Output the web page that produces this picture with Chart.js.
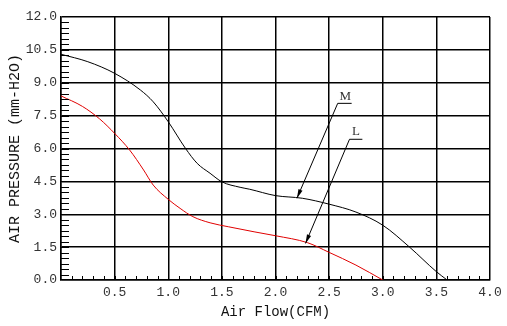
<!DOCTYPE html>
<html lang="en">
<head>
    <meta charset="UTF-8">
    <title>Fan P-Q Curve</title>
    <script src="https://cdn.jsdelivr.net/npm/chart.js"></script>
    <style>
        html, body { margin: 0; padding: 0; background: #fff; }
        #wrap { width: 507px; height: 326px; }
    </style>
</head>
<body>
    <div id="wrap"><canvas id="pqChart" width="507" height="326"></canvas></div>

    <script>
        // Air flow (CFM) / air pressure (mm-H2O) samples for each speed
        const flowM = [0, 0.25, 0.5, 0.74, 0.86, 1.0, 1.16, 1.27, 1.39, 1.5, 1.67, 1.76, 2.0, 2.25, 2.5, 2.75, 3.0, 3.25, 3.5, 3.6];
        const pressM = [10.3, 9.96, 9.43, 8.67, 8.13, 7.22, 6.01, 5.32, 4.87, 4.48, 4.23, 4.14, 3.85, 3.73, 3.46, 3.1, 2.5, 1.5, 0.38, 0];

        const flowL = [0, 0.2, 0.36, 0.5, 0.64, 0.77, 0.86, 1.0, 1.11, 1.23, 1.39, 1.56, 1.8, 2.0, 2.3, 2.5, 2.75, 3.0];
        const pressL = [8.4, 7.92, 7.35, 6.69, 5.93, 5.02, 4.33, 3.68, 3.27, 2.89, 2.61, 2.43, 2.2, 2.02, 1.7, 1.26, 0.68, 0];

        const xTickValues = [0.5, 1.0, 1.5, 2.0, 2.5, 3.0, 3.5, 4.0];
        const yTickValues = [0, 1.5, 3.0, 4.5, 6.0, 7.5, 9.0, 10.5, 12.0];

        const toPoints = (xs, ys) => xs.map((x, i) => ({ x: x, y: ys[i] }));

        // curve labels with leader arrows, in data units
        const callouts = [
            { text: 'M', tx: 2.65, ty: 8.39, lineFrom: 2.58, lineTo: 2.71, ly: 8.06, tipX: 2.2, tipY: 3.73 },
            { text: 'L', tx: 2.75, ty: 6.77, lineFrom: 2.69, lineTo: 2.81, ly: 6.42, tipX: 2.28, tipY: 1.67 }
        ];

        const tickFont = { family: '"Liberation Mono", "DejaVu Sans Mono", monospace', size: 13 };

        // inward minor ticks plus the M / L callouts
        const decorations = {
            id: 'decorations',
            afterDraw(chart) {
                const { ctx, chartArea } = chart;
                const x = chart.scales.x, y = chart.scales.y;
                ctx.save();
                ctx.fillStyle = '#000';
                for (let i = 1; i < 48; i++) {
                    const py = Math.round(y.getPixelForValue(i * 0.25));
                    ctx.fillRect(Math.round(chartArea.left), py, 8, 1);
                }
                for (let i = 1; i < 40; i++) {
                    const px = Math.round(x.getPixelForValue(i * 0.1));
                    ctx.fillRect(px, Math.round(chartArea.bottom) - 4, 1, 4);
                }

                callouts.forEach(c => {
                    const x0 = x.getPixelForValue(c.lineFrom);
                    const x1 = x.getPixelForValue(c.lineTo);
                    const ly = y.getPixelForValue(c.ly);
                    const tx = x.getPixelForValue(c.tipX);
                    const ty = y.getPixelForValue(c.tipY);
                    ctx.strokeStyle = '#000';
                    ctx.lineWidth = 1;
                    ctx.beginPath();
                    ctx.moveTo(x1, ly);
                    ctx.lineTo(x0, ly);
                    ctx.lineTo(tx, ty);
                    ctx.stroke();

                    // arrow head
                    const ang = Math.atan2(ty - ly, tx - x0);
                    const len = 9, half = 2.2;
                    const bx = tx - len * Math.cos(ang);
                    const by = ty - len * Math.sin(ang);
                    ctx.fillStyle = '#000';
                    ctx.beginPath();
                    ctx.moveTo(tx, ty);
                    ctx.lineTo(bx + half * Math.sin(ang), by - half * Math.cos(ang));
                    ctx.lineTo(bx - half * Math.sin(ang), by + half * Math.cos(ang));
                    ctx.closePath();
                    ctx.fill();

                    ctx.fillStyle = '#333';
                    ctx.font = '13px "Liberation Serif", serif';
                    ctx.textAlign = 'center';
                    ctx.textBaseline = 'middle';
                    ctx.fillText(c.text, x.getPixelForValue(c.tx), y.getPixelForValue(c.ty));
                });
                ctx.restore();
            }
        };

        const isTickAt = (list, v) => list.some(t => Math.abs(t - v) < 1e-6);

        new Chart(document.getElementById('pqChart'), {
            type: 'line',
            data: {
                datasets: [
                    {
                        label: 'M',
                        data: toPoints(flowM, pressM),
                        borderColor: '#000',
                        borderWidth: 1,
                        pointRadius: 0,
                        cubicInterpolationMode: 'monotone',
                        fill: false
                    },
                    {
                        label: 'L',
                        data: toPoints(flowL, pressL),
                        borderColor: '#e00000',
                        borderWidth: 1,
                        pointRadius: 0,
                        cubicInterpolationMode: 'monotone',
                        fill: false
                    }
                ]
            },
            options: {
                responsive: false,
                animation: false,
                layout: { padding: { top: 17, right: 17, left: 0, bottom: 0 } },
                plugins: {
                    legend: { display: false },
                    tooltip: { enabled: false }
                },
                scales: {
                    x: {
                        type: 'linear',
                        min: 0,
                        max: 4,
                        afterFit: s => { s.height = 46; },
                        afterBuildTicks: s => { s.ticks = [0].concat(xTickValues).map(v => ({ value: v })); },
                        border: { color: '#000', width: 1.5 },
                        grid: { color: '#000', lineWidth: 1.5, drawTicks: false },
                        ticks: {
                            padding: 5,
                            color: '#333',
                            font: tickFont,
                            maxRotation: 0,
                            autoSkip: false,
                            callback: v => isTickAt(xTickValues, v) ? v.toFixed(1) : ''
                        },
                        title: {
                            display: true,
                            text: 'Air Flow(CFM)',
                            color: '#111',
                            font: { family: '"Liberation Mono", "DejaVu Sans Mono", monospace', size: 14 },
                            padding: { top: 0, bottom: 5 }
                        }
                    },
                    y: {
                        min: 0,
                        max: 12,
                        afterFit: s => { s.width = 61; },
                        afterBuildTicks: s => { s.ticks = yTickValues.map(v => ({ value: v })); },
                        border: { color: '#000', width: 1.5 },
                        grid: { color: '#000', lineWidth: 1.5, drawTicks: false },
                        ticks: {
                            padding: 4,
                            color: '#333',
                            font: tickFont,
                            autoSkip: false,
                            callback: v => v.toFixed(1)
                        },
                        title: {
                            display: true,
                            text: 'AIR PRESSURE (mm-H2O)',
                            color: '#111',
                            font: { family: '"Liberation Mono", "DejaVu Sans Mono", monospace', size: 15 },
                            padding: { top: 6, bottom: 0 }
                        }
                    }
                }
            },
            plugins: [decorations]
        });
    </script>
</body>
</html>
